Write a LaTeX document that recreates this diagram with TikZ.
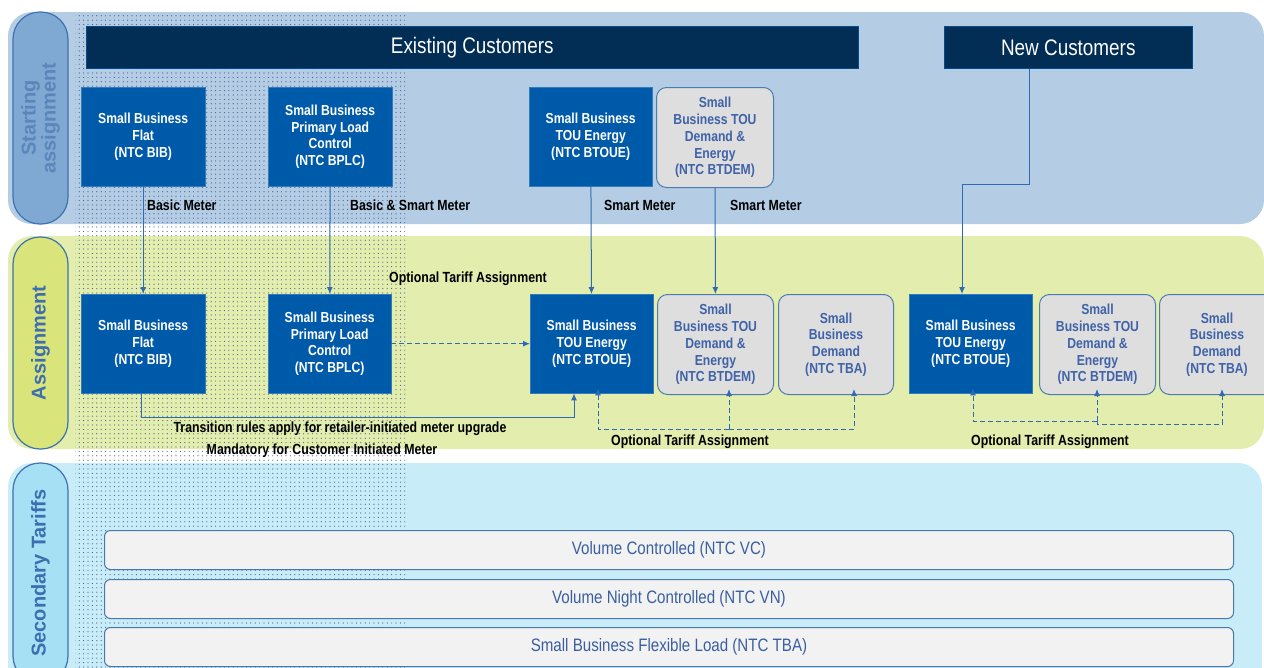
\documentclass[tikz,border=0pt]{standalone}
\usepackage{fontspec}
\setmainfont{Liberation Sans}
\newfontfamily\narrowf[FakeStretch=0.84]{Liberation Sans}
\usetikzlibrary{arrows.meta,patterns.meta,calc}
\definecolor{bandA}{HTML}{B4CDE4}
\definecolor{bandB}{HTML}{E3EDAD}
\definecolor{bandC}{HTML}{C8EDF8}
\definecolor{pillA}{HTML}{7FA9D3}
\definecolor{pillB}{HTML}{D9E47B}
\definecolor{pillC}{HTML}{A5E0F5}
\definecolor{pillborder}{HTML}{3E72B0}
\definecolor{pilltextA}{HTML}{5A86BA}
\definecolor{pilltext}{HTML}{3D6FB0}
\definecolor{navy}{HTML}{022D55}
\definecolor{tblue}{HTML}{005AAA}
\definecolor{gfill}{HTML}{DEDEDE}
\definecolor{gborder}{HTML}{4C7BB0}
\definecolor{gtext}{HTML}{3F62A8}
\definecolor{conncol}{HTML}{2F6BB3}
\definecolor{dotcol}{HTML}{3F5F8C}
\definecolor{barfill}{HTML}{F2F2F2}
\definecolor{barborder}{HTML}{4A78A8}
\definecolor{bartext}{HTML}{3A5FA0}
\begin{document}
\begin{tikzpicture}[x=1pt,y=-1pt,
  pill/.style={draw=pillborder, line width=1.2pt, rounded corners=27pt, rotate=90,
    minimum height=55pt, inner sep=0pt, align=center,
    font=\fontsize{20}{20}\selectfont\bfseries},
  header/.style={fill=navy, draw=tblue!70!navy, line width=0.6pt, text=white, inner sep=0pt,
    anchor=north west, font=\narrowf\fontsize{22.5}{22.5}\selectfont},
  tbox/.style={fill=tblue, draw=tblue!80!white, text=white, inner sep=0pt, align=center,
    anchor=north west, minimum height=99pt,
    font=\narrowf\fontsize{14.5}{16.8}\selectfont\bfseries},
  gbox/.style={fill=gfill, draw=gborder, line width=1pt, rounded corners=10pt, text=gtext,
    inner sep=0pt, align=center, anchor=north west, minimum height=100pt,
    font=\narrowf\fontsize{14.5}{16.8}\selectfont\bfseries},
  lbl/.style={inner sep=0pt, text=black, font=\narrowf\fontsize{14.7}{14.7}\selectfont\bfseries},
  bar/.style={fill=barfill, draw=barborder, line width=1pt, rounded corners=6pt,
    inner sep=0pt, anchor=north west, minimum width=1129pt, minimum height=39pt,
    text=bartext, font=\narrowf\fontsize{18}{18}\selectfont},
  conn/.style={draw=conncol, line width=1pt, -{Latex[length=7pt,width=6pt]}},
  dconn/.style={draw=conncol, line width=1pt, dash pattern=on 5pt off 3pt,
    -{Latex[length=7pt,width=6pt]}}
]
\useasboundingbox (0,0) rectangle (1264,667);
% bands
\fill[bandA, rounded corners=24pt] (8,12) rectangle (1264,224);
\fill[bandB, rounded corners=24pt] (8,236) rectangle (1264,449);
\fill[bandC, rounded corners=24pt] (8,463) rectangle (1262,700);
% dotted overlay
\fill[pattern={Dots[distance=4.4pt,radius=0.6pt]}, pattern color=dotcol] (75,12) rectangle (405,667);
% pills
\node[pill, fill=pillA, text=pilltextA, minimum width=212pt] (pA) at (40.5,118) {Starting\\assignment};
\node[pill, fill=pillB, text=pilltext, minimum width=212pt] (pB) at (40.5,343) {Assignment};
\node[pill, fill=pillC, text=pilltext, minimum width=220pt] (pC) at (40.5,573) {Secondary Tariffs};
% headers
\node[header, minimum width=772pt, minimum height=42pt] (exist) at (86,26) {Existing Customers};
\node[header, minimum width=248pt, minimum height=42pt] (newc) at (944,26) {New Customers};
% row 1
\node[tbox, minimum width=124pt] (bibA) at (81,87) {Small Business\\Flat\\(NTC BIB)};
\node[tbox, minimum width=124pt] (bplcA) at (268,87) {Small Business\\Primary Load\\Control\\(NTC BPLC)};
\node[tbox, minimum width=123pt] (touA) at (529,87) {Small Business\\TOU Energy\\(NTC BTOUE)};
\node[gbox, minimum width=117pt] (demA) at (656,87) {Small\\Business TOU\\Demand \&\\Energy\\(NTC BTDEM)};
% row 2
\node[tbox, minimum width=124pt] (bibB) at (81,294) {Small Business\\Flat\\(NTC BIB)};
\node[tbox, minimum width=123pt] (bplcB) at (268,294) {Small Business\\Primary Load\\Control\\(NTC BPLC)};
\node[tbox, minimum width=123pt] (touB) at (530,294) {Small Business\\TOU Energy\\(NTC BTOUE)};
\node[gbox, minimum width=116pt] (demB) at (657,294) {Small\\Business TOU\\Demand \&\\Energy\\(NTC BTDEM)};
\node[gbox, minimum width=115pt] (tbaB) at (778,294) {Small\\Business\\Demand\\(NTC TBA)};
\node[tbox, minimum width=123pt] (touC) at (909,294) {Small Business\\TOU Energy\\(NTC BTOUE)};
\node[gbox, minimum width=116pt] (demC) at (1039,294) {Small\\Business TOU\\Demand \&\\Energy\\(NTC BTDEM)};
\node[gbox, minimum width=115pt] (tbaC) at (1159,294) {Small\\Business\\Demand\\(NTC TBA)};
% labels
\node[lbl, anchor=west] (l1) at (147,205) {Basic Meter};
\node[lbl, anchor=west] (l2) at (350,205) {Basic \& Smart Meter};
\node[lbl, anchor=west] (l3) at (604,205) {Smart Meter};
\node[lbl, anchor=west] (l4) at (730,205) {Smart Meter};
\node[lbl] (l5) at (468,279) {Optional Tariff Assignment};
\node[lbl] (l6) at (340,429) {Transition rules apply for retailer-initiated meter upgrade};
\node[lbl] (l7) at (322,451) {Mandatory for Customer Initiated Meter};
\node[lbl] (l8) at (690,442) {Optional Tariff Assignment};
\node[lbl] (l9) at (1050,442) {Optional Tariff Assignment};
% secondary bars
\node[bar] (vc) at (104,530) {Volume Controlled (NTC VC)};
\node[bar] (vn) at (104,579) {Volume Night Controlled (NTC VN)};
\node[bar] (fl) at (104,627) {Small Business Flexible Load (NTC TBA)};
% vertical connectors
\draw[conn] (bibA) -- (bibB);
\draw[conn] (bplcA) -- (bplcB);
\draw[conn] (touA) -- (touB);
\draw[conn] (demA) -- (demB);
% new customers
\coordinate (nk) at (962,184);
\draw[conn] ([xshift=-39pt]newc.south) |- (nk) -- (nk |- touC.north);
% optional dashed from BPLC
\draw[dconn] (bplcB.east) -- (touB.west);
% transition
\coordinate (tk) at (574,417);
\draw[conn] ([xshift=-2pt]bibB.south) |- (tk) -- (tk |- touB.south);
% optional group 1
\coordinate (da) at (598,429);
\coordinate (db) at (729,429);
\coordinate (dc) at (854,429);
\draw[dconn] (db) -| (da) -- ([yshift=5pt]da |- touB.south);
\draw[dconn] (db) -- ([yshift=6pt]db |- demB.south);
\draw[dconn] (db) -| (dc) -- ([yshift=6pt]dc |- tbaB.south);
% optional group 2
\coordinate (ea) at (973,421);
\coordinate (eb) at (1097,421);
\coordinate (ec) at (1222,424);
\draw[dconn] (eb) -| (ea) -- ([yshift=5pt]ea |- touC.south);
\draw[dconn] (eb) -- ([yshift=6pt]eb |- demC.south);
\draw[dconn] (eb) |- (ec) -- ([yshift=6pt]ec |- tbaC.south);
\end{tikzpicture}
\end{document}
